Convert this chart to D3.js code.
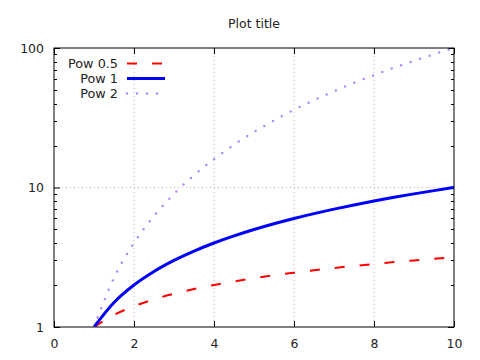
<!DOCTYPE html>
<html>
<head>
<meta charset="utf-8">
<script src="https://cdn.jsdelivr.net/npm/d3@7"></script>
<style>
  body { margin: 0; background: #fff; }
  text { font-family: "DejaVu Sans", sans-serif; fill: #222; }
</style>
</head>
<body>
<div id="chart"></div>
<script>
/***** data *****/
var xs = [1, 1.5, 2, 2.5, 3, 3.5, 4, 4.5, 5, 5.5, 6, 6.5, 7, 7.5, 8, 8.5, 9, 9.5, 10];
var pow05 = [1, 1.22, 1.41, 1.58, 1.73, 1.87, 2, 2.12, 2.24, 2.35, 2.45, 2.55, 2.65, 2.74, 2.83, 2.92, 3, 3.08, 3.16];
var pow1 = [1, 1.5, 2, 2.5, 3, 3.5, 4, 4.5, 5, 5.5, 6, 6.5, 7, 7.5, 8, 8.5, 9, 9.5, 10];
var pow2 = [1, 2.25, 4, 6.25, 9, 12.25, 16, 20.25, 25, 30.25, 36, 42.25, 49, 56.25, 64, 72.25, 81, 90.25, 100];
var seriesNames = ["Pow 0.5", "Pow 1", "Pow 2"];
var xTicks = [0, 2, 4, 6, 8, 10];
var yTicks = [1, 10, 100];

//chart parameters
var width = 480, height = 360;
var margin = {top: 48, right: 26, bottom: 33, left: 54};
var w = width - margin.left - margin.right;
var h = height - margin.top - margin.bottom;

var svg = d3.select("#chart").append("svg")
  .attr("width", width)
  .attr("height", height);

var g = svg.append("g")
  .attr("transform", "translate(" + margin.left + "," + margin.top + ")");

//scales
var x = d3.scaleLinear().domain([0, 10]).range([0, w]);
var y = d3.scaleLog().domain([1, 100]).range([h, 0]);

// minor log ticks
var minor = [];
[1, 10].forEach(function(b) {
  for (var i = 2; i <= 9; i++) minor.push(b * i);
});

//grid
g.append("g").selectAll("line")
  .data(xTicks.filter(function(d) { return d > 0 && d < 10; }))
  .enter().append("line")
  .attr("x1", function(d) { return x(d); })
  .attr("x2", function(d) { return x(d); })
  .attr("y1", 0).attr("y2", h)
  .attr("stroke", "#bbb").attr("stroke-width", 1)
  .attr("stroke-dasharray", "1,3");
g.append("g").selectAll("line")
  .data([10])
  .enter().append("line")
  .attr("y1", function(d) { return y(d); })
  .attr("y2", function(d) { return y(d); })
  .attr("x1", 0).attr("x2", w)
  .attr("stroke", "#bbb").attr("stroke-width", 1)
  .attr("stroke-dasharray", "1,3");

//axes (ticks inward, mirrored)
var xAxis = d3.axisBottom(x).tickValues(xTicks).tickSizeInner(-6).tickSizeOuter(0).tickPadding(12);
var xTop = d3.axisTop(x).tickValues(xTicks).tickSizeInner(-6).tickSizeOuter(0).tickFormat("");
var yAxis = d3.axisLeft(y).tickValues(yTicks).tickFormat(d3.format("d")).tickSizeInner(-6).tickSizeOuter(0).tickPadding(10);
var yRight = d3.axisRight(y).tickValues(yTicks).tickSizeInner(-6).tickSizeOuter(0).tickFormat("");

function styleAxis(sel) {
  sel.select(".domain").remove();
  sel.selectAll("line").attr("stroke", "#000");
  sel.selectAll("text").attr("font-size", 12.5).attr("fill", "#222")
    .attr("font-family", "DejaVu Sans, sans-serif");
}

g.append("g").attr("transform", "translate(0," + h + ")").call(xAxis).call(styleAxis);
g.append("g").call(xTop).call(styleAxis);
g.append("g").call(yAxis).call(styleAxis);
g.append("g").attr("transform", "translate(" + w + ",0)").call(yRight).call(styleAxis);

// minor ticks left and right
g.append("g").selectAll("line")
  .data(minor).enter().append("line")
  .attr("x1", 0).attr("x2", 3)
  .attr("y1", function(d) { return Math.round(y(d)) + 0.5; })
  .attr("y2", function(d) { return Math.round(y(d)) + 0.5; })
  .attr("stroke", "#000");
g.append("g").selectAll("line")
  .data(minor).enter().append("line")
  .attr("x1", w - 3).attr("x2", w)
  .attr("y1", function(d) { return Math.round(y(d)) + 0.5; })
  .attr("y2", function(d) { return Math.round(y(d)) + 0.5; })
  .attr("stroke", "#000");

//series
var series = [
  {name: seriesNames[0], vals: pow05, color: "#ff0000", width: 2, dash: "10,15", cap: "butt"},
  {name: seriesNames[1], vals: pow1, color: "#0000ff", width: 3, dash: null, cap: "butt"},
  {name: seriesNames[2], vals: pow2, color: "#b388ff", width: 2.5, dash: "0,10", cap: "round"}
];

var line = d3.line()
  .x(function(d) { return x(d[0]); })
  .y(function(d) { return y(d[1]); })
  .curve(d3.curveMonotoneX);

svg.append("clipPath").attr("id", "clip")
  .append("rect").attr("width", w).attr("height", h);

g.append("g").attr("clip-path", "url(#clip)").selectAll("path")
  .data(series).enter().append("path")
  .attr("d", function(s) { return line(d3.zip(xs, s.vals)); })
  .attr("fill", "none")
  .attr("stroke", function(s) { return s.color; })
  .attr("stroke-width", function(s) { return s.width; })
  .attr("stroke-dasharray", function(s) { return s.dash; })
  .attr("stroke-linecap", function(s) { return s.cap; });

//frame
g.append("rect")
  .attr("width", w).attr("height", h)
  .attr("fill", "none").attr("stroke", "#000").attr("stroke-width", 1);

//legend
var legend = g.append("g").attr("transform", "translate(0,15.5)");
var rows = legend.selectAll("g").data(series).enter().append("g")
  .attr("transform", function(s, i) { return "translate(0," + (i * 15) + ")"; });
rows.append("text")
  .attr("x", 64).attr("dy", "0.35em")
  .attr("text-anchor", "end")
  .attr("font-size", 12.8)
  .text(function(s) { return s.name; });
rows.append("line")
  .attr("x1", 73).attr("x2", 111)
  .attr("stroke", function(s) { return s.color; })
  .attr("stroke-width", function(s) { return s.width; })
  .attr("stroke-dasharray", function(s) { return s.dash; })
  .attr("stroke-linecap", function(s) { return s.cap; });

//title
svg.append("text")
  .attr("x", margin.left + w / 2).attr("y", 28)
  .attr("text-anchor", "middle")
  .attr("font-size", 12.5)
  .text("Plot title");
</script>
</body>
</html>
